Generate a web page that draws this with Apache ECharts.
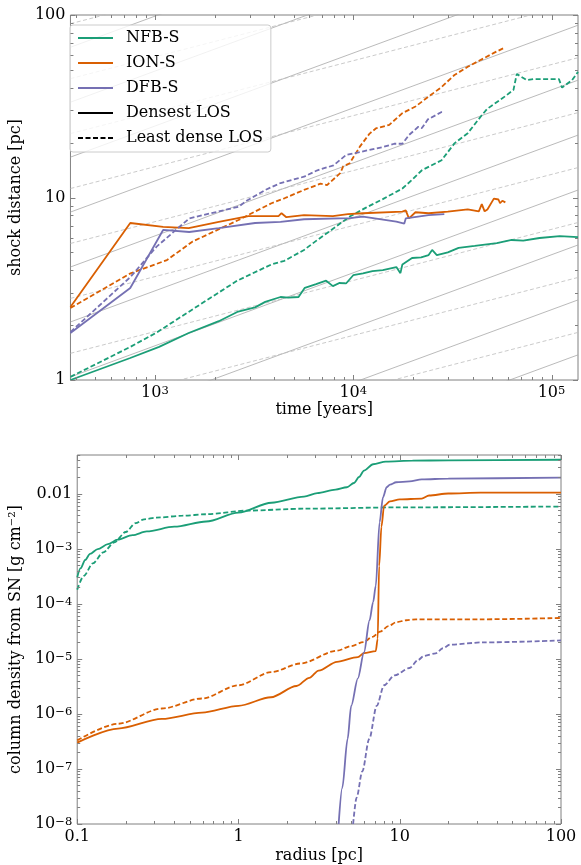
<!DOCTYPE html>
<html><head><meta charset="utf-8">
<script src="https://cdn.jsdelivr.net/npm/echarts@6/dist/echarts.min.js"></script>
<style>html,body{margin:0;padding:0;background:#fff}#c{width:581px;height:865px}</style>
</head><body><div id="c"></div><script>
// ---------- top panel: shock distance vs time ----------
const timeRange = [375, 136000];
const distRange = [1, 100];
const seriesNames = ['NFB-S', 'ION-S', 'DFB-S'];
const losNames = ['Densest LOS', 'Least dense LOS'];

const nfbDenseShock = [[375,1.0],[751,1.32],[1050,1.52],[1480,1.81],[2100,2.1],[2600,2.36],[3200,2.5],[3600,2.68],[4300,2.85],[4700,2.83],[5300,2.85],[5700,3.2],[6500,3.35],[7300,3.5],[7900,3.27],[8500,3.4],[9200,3.38],[10000,3.75],[11200,3.84],[12500,3.95],[14100,4.0],[16500,4.16],[17300,3.85],[17700,4.3],[18100,4.4],[19800,4.66],[22000,4.7],[24000,4.84],[25000,5.16],[26400,4.84],[30000,5.0],[34000,5.3],[41000,5.43],[53000,5.62],[63000,5.85],[72000,5.8],[87000,6.0],[110000,6.15],[136000,6.07]];
const nfbSparseShock = [[375,1.04],[753,1.52],[1020,1.82],[1810,2.72],[2600,3.5],[3870,4.3],[4500,4.5],[5650,5.16],[6580,5.84],[8000,6.8],[9600,7.86],[11600,8.8],[14100,9.8],[17700,11.2],[19800,12.5],[22200,14.1],[27900,16],[32400,19.8],[37800,22.5],[44000,27.8],[47400,30.6],[59500,36.4],[64300,38.9],[66800,47.5],[74900,44],[80800,44.5],[109000,44.5],[113000,40],[127000,44],[136000,48.8]];
const ionDenseShock = [[375,2.51],[751,7.25],[1100,6.9],[1480,6.8],[2100,7.35],[2960,7.9],[4200,7.9],[4350,8.2],[4600,7.8],[5650,8.0],[7900,7.9],[9400,8.1],[11200,8.2],[17700,8.37],[18400,8.5],[19100,7.68],[20600,8.3],[24000,8.2],[30000,8.37],[37800,8.6],[43000,8.4],[44500,9.2],[46000,8.4],[47500,8.6],[51200,9.86],[54000,9.75],[55000,9.3],[56500,9.6],[58500,9.4]];
const ionSparseShock = [[375,2.48],[753,3.84],[1150,4.54],[1550,5.74],[2640,7.53],[3870,9.3],[4500,9.9],[5650,11.0],[6840,11.9],[7380,11.7],[8600,13.6],[8900,14.8],[9600,15.4],[10800,19.0],[12100,22.4],[13000,23.9],[15200,25.0],[17700,29.0],[20600,31.5],[23900,35.6],[27900,40.3],[32400,46.9],[37800,52.0],[44000,56.8],[51200,62],[57400,65.9]];
const dfbDenseShock = [[375,1.81],[751,3.19],[1100,6.64],[1490,6.47],[2100,6.8],[3200,7.25],[4300,7.35],[5650,7.6],[9600,7.7],[11200,7.85],[16500,7.38],[18100,7.2],[18400,7.68],[24000,8.0],[28800,8.1]];
const dfbSparseShock = [[375,1.83],[753,3.67],[1020,5.38],[1490,7.68],[2640,8.9],[2900,9.6],[3600,11.0],[4300,12.0],[5650,13.0],[6600,14.1],[7960,15],[9200,17.1],[10200,17.5],[14100,18.9],[16100,19.7],[17700,19.7],[19100,22],[21300,24.4],[22200,24],[23800,26.8],[27900,29.4],[28800,29.4]];

// background power-law guide lines: r = base * 2^k * (t/t0)^slope
const guideSlopes = [0.4, 0.28];
const guideBases = [1.04, 1.40];
const guideSteps = [-4, -3, -2, -1, 0, 1, 2, 3, 4, 5, 6, 7];

// ---------- bottom panel: column density vs radius ----------
const radiusRange = [0.1, 100];
const colRange = [1e-8, 0.05];
const nfbDenseCol = [[0.1,3.0e-4],[0.105,4.4e-4],[0.112,6.2e-4],[0.12,8.0e-4],[0.134,9.8e-4],[0.155,1.2e-3],[0.178,1.45e-3],[0.22,1.75e-3],[0.27,2.05e-3],[0.4,2.5e-3],[0.63,3.1e-3],[1.0,4.5e-3],[1.6,6.8e-3],[2.55,8.8e-3],[3.08,0.0102],[4.0,0.0118],[4.7,0.013],[5.2,0.0155],[5.6,0.02],[6.0,0.026],[6.84,0.034],[8.2,0.038],[12,0.0395],[20,0.040],[100,0.041]];
const nfbSparseCol = [[0.1,1.8e-4],[0.11,3.2e-4],[0.125,5.4e-4],[0.145,8.5e-4],[0.17,1.3e-3],[0.2,2.0e-3],[0.23,2.9e-3],[0.26,3.4e-3],[0.31,3.65e-3],[0.45,3.95e-3],[0.63,4.2e-3],[1.15,4.9e-3],[2.55,5.3e-3],[10,5.6e-3],[100,5.8e-3]];
const ionDenseCol = [[0.1,3.0e-7],[0.179,5.4e-7],[0.335,8.1e-7],[0.594,1.05e-6],[1.0,1.4e-6],[1.59,2.0e-6],[2.29,3.2e-6],[2.75,4.5e-6],[3.14,6.1e-6],[4.08,8.8e-6],[5.5,1.07e-5],[6.0,1.26e-5],[7.1,1.38e-5],[7.3,2.3e-5],[7.45,4.8e-4],[7.7,2.5e-3],[8.0,6.0e-3],[8.7,7.2e-3],[10,7.8e-3],[13.7,8.1e-3],[15.2,9.2e-3],[20,0.01],[31.7,0.0104],[100,0.0104]];
const ionSparseCol = [[0.1,3.3e-7],[0.179,6.6e-7],[0.335,1.25e-6],[0.594,1.9e-6],[1.0,3.3e-6],[1.59,5.7e-6],[2.42,8.2e-6],[4.08,1.4e-5],[5.0,1.7e-5],[5.94,2.0e-5],[6.8,2.5e-5],[7.55,3.1e-5],[8.5,3.9e-5],[9.5,4.6e-5],[11,5.0e-5],[12.6,5.2e-5],[31.7,5.2e-5],[100,5.5e-5]];
const dfbDenseCol = [[4.18,1e-8],[4.4,4.5e-8],[4.75,3.5e-7],[5.0,1.4e-6],[5.5,4.4e-6],[6.0,1.3e-5],[6.5,5.0e-5],[6.84,1.07e-4],[7.1,2.1e-4],[7.5,3e-3],[7.87,8.5e-3],[8.3,0.013],[8.7,0.0145],[9.5,0.016],[11.5,0.0166],[13.7,0.018],[20,0.0187],[100,0.0194]];
const dfbSparseCol = [[5.14,1e-8],[5.4,3e-8],[5.86,9e-8],[6.47,3.5e-7],[7.2,1.4e-6],[8.0,3.3e-6],[9.3,5e-6],[11.5,6.8e-6],[13,9.5e-6],[14.1,1.12e-5],[16.7,1.25e-5],[18.5,1.55e-5],[20.5,1.8e-5],[32.6,1.98e-5],[100,2.15e-5]];

// ---------- styling ----------
const FONT = "'DejaVu Serif', serif";
const COLORS = ['#1b9e77', '#d95f02', '#7570b3'];
const RICH = {
  b: {fontFamily: FONT, fontSize: 16, color: '#000'},
  s: {fontFamily: FONT, fontSize: 11.5, color: '#000', verticalAlign: 'top'}
};
function expOf(v) { const l = Math.log10(v); const e = Math.round(l); return Math.abs(l - e) < 1e-6 ? e : null; }
const fmtTopX = v => { const e = expOf(v); return e === null ? '' : '{b|10}{s|' + e + '}'; };
const fmtTopY = v => { const e = expOf(v); return e === null ? '' : '{b|' + String(Math.pow(10, e)) + '}'; };
const fmtBotX = v => { const e = expOf(v); if (e === null) return ''; return '{b|' + (e < 0 ? '0.1' : String(Math.pow(10, e))) + '}'; };
const fmtBotY = v => { const e = expOf(v); if (e === null) return ''; if (e === -2) return '{b|0.01}'; return '{b|10}{s|\u2212' + (-e) + '}'; };

function logAxis(gridIndex, range, fmt, name, nameGap) {
  return {
    type: 'log', logBase: 10, gridIndex, min: range[0], max: range[1],
    name, nameLocation: 'middle', nameGap,
    nameTextStyle: {fontFamily: FONT, fontSize: 16, color: '#000'},
    axisLine: {show: false}, axisTick: {show: false}, splitLine: {show: false}, minorTick: {show: false},
    axisLabel: {formatter: fmt, margin: 5, interval: 0, rich: RICH, fontFamily: FONT, fontSize: 16, color: '#000', hideOverlap: false}
  };
}

function decadeTicks(lo, hi) {
  const major = [], minor = [];
  for (let e = Math.floor(Math.log10(lo)); e <= Math.ceil(Math.log10(hi)); e++) {
    for (let m = 1; m <= 9; m++) {
      const v = m * Math.pow(10, e);
      if (v < lo * 0.9999 || v > hi * 1.0001) continue;
      (m === 1 ? major : minor).push(v);
    }
  }
  return {major, minor};
}
function tickSeries(gi, xr, yr) {
  const xt = decadeTicks(xr[0], xr[1]), yt = decadeTicks(yr[0], yr[1]);
  const data = [];
  xt.major.forEach(v => data.push([v, yr[0], 1, 0]));
  xt.minor.forEach(v => data.push([v, yr[0], 0, 0]));
  yt.major.forEach(v => data.push([xr[0], v, 1, 1]));
  yt.minor.forEach(v => data.push([xr[0], v, 0, 1]));
  return {
    type: 'custom', xAxisIndex: gi, yAxisIndex: gi, silent: true, clip: false, z: 20, data,
    renderItem: (params, api) => {
      const cs = params.coordSys;
      const len = api.value(2) ? 5 : 3;
      const st = {stroke: '#808080', lineWidth: 1};
      const p = api.coord([api.value(0), api.value(1)]);
      if (api.value(3) === 0) {
        const x = Math.round(p[0]) + 0.5, yb = cs.y + cs.height, ytp = cs.y;
        return {type: 'group', children: [
          {type: 'line', shape: {x1: x, y1: yb, x2: x, y2: yb - len}, style: st},
          {type: 'line', shape: {x1: x, y1: ytp, x2: x, y2: ytp + len}, style: st}]};
      } else {
        const y = Math.round(p[1]) + 0.5, xl = cs.x, xr2 = cs.x + cs.width;
        return {type: 'group', children: [
          {type: 'line', shape: {x1: xl, y1: y, x2: xl + len, y2: y}, style: st},
          {type: 'line', shape: {x1: xr2, y1: y, x2: xr2 - len, y2: y}, style: st}]};
      }
    }
  };
}

function dataLine(name, gi, data, color, dashed, smooth) {
  return {
    type: 'line', name, xAxisIndex: gi, yAxisIndex: gi, data, symbol: 'none', z: 5,
    smooth: smooth ? 0.3 : false, smoothMonotone: smooth ? 'x' : undefined,
    lineStyle: {color, width: 1.8, type: dashed ? [5, 2.5] : 'solid'},
    itemStyle: {color}, emphasis: {disabled: true}
  };
}

const series = [];
guideSlopes.forEach((slope, i) => {
  guideSteps.forEach(k => {
    const r0 = guideBases[i] * Math.pow(2, k);
    const r1 = r0 * Math.pow(timeRange[1] / timeRange[0], slope);
    series.push({
      type: 'line', xAxisIndex: 0, yAxisIndex: 0, symbol: 'none', silent: true, z: 1,
      data: [[timeRange[0], r0], [timeRange[1], r1]],
      lineStyle: i === 0 ? {color: '#a8a8a8', width: 0.8} : {color: '#bdbdbd', width: 0.8, type: [4, 2.5]},
      emphasis: {disabled: true}
    });
  });
});
const topDense = [nfbDenseShock, ionDenseShock, dfbDenseShock];
const topSparse = [nfbSparseShock, ionSparseShock, dfbSparseShock];
seriesNames.forEach((n, i) => {
  series.push(dataLine(n, 0, topDense[i], COLORS[i], false, false));
  series.push(dataLine(n + ' (least dense)', 0, topSparse[i], COLORS[i], true, false));
});
series.push(dataLine(losNames[0], 0, [], '#000', false, false));
series.push(dataLine(losNames[1], 0, [], '#000', true, false));

const botDense = [nfbDenseCol, ionDenseCol, dfbDenseCol];
const botSparse = [nfbSparseCol, ionSparseCol, dfbSparseCol];
seriesNames.forEach((n, i) => {
  series.push(dataLine(n + ' col', 1, botDense[i], COLORS[i], false, true));
  series.push(dataLine(n + ' col (least dense)', 1, botSparse[i], COLORS[i], true, true));
});
series.push(tickSeries(0, timeRange, distRange));
series.push(tickSeries(1, radiusRange, colRange));

const chart = echarts.init(document.getElementById('c'), null, {renderer: 'canvas'});
chart.setOption({
  animation: false,
  backgroundColor: '#fff',
  grid: [
    {left: 62, top: 15, width: 518, height: 365, show: true, borderColor: '#808080', borderWidth: 1, backgroundColor: 'transparent'},
    {left: 69, top: 455, width: 492, height: 371, show: true, borderColor: '#808080', borderWidth: 1, backgroundColor: 'transparent'}
  ],
  xAxis: [
    logAxis(0, timeRange, fmtTopX, 'time [years]', 22),
    logAxis(1, radiusRange, fmtBotX, 'radius [pc]', 24)
  ],
  yAxis: [
    logAxis(0, distRange, fmtTopY, 'shock distance [pc]', 40),
    logAxis(1, colRange, fmtBotY, 'column density from SN [g cm\u207B\u00B2]', 46)
  ],
  legend: {
    data: seriesNames.concat(losNames), orient: 'vertical', left: 70, top: 25,
    itemWidth: 35, itemHeight: 12, itemGap: 7, padding: [4, 8, 5, 7],
    backgroundColor: 'rgba(255,255,255,0.8)', borderColor: '#cccccc', borderWidth: 1, borderRadius: 3,
    selectedMode: false,
    itemStyle: {opacity: 0},
    textStyle: {fontFamily: FONT, fontSize: 16, color: '#000', padding: [0, 0, 0, 8], lineHeight: 18}
  },
  series
});
</script></body></html>
